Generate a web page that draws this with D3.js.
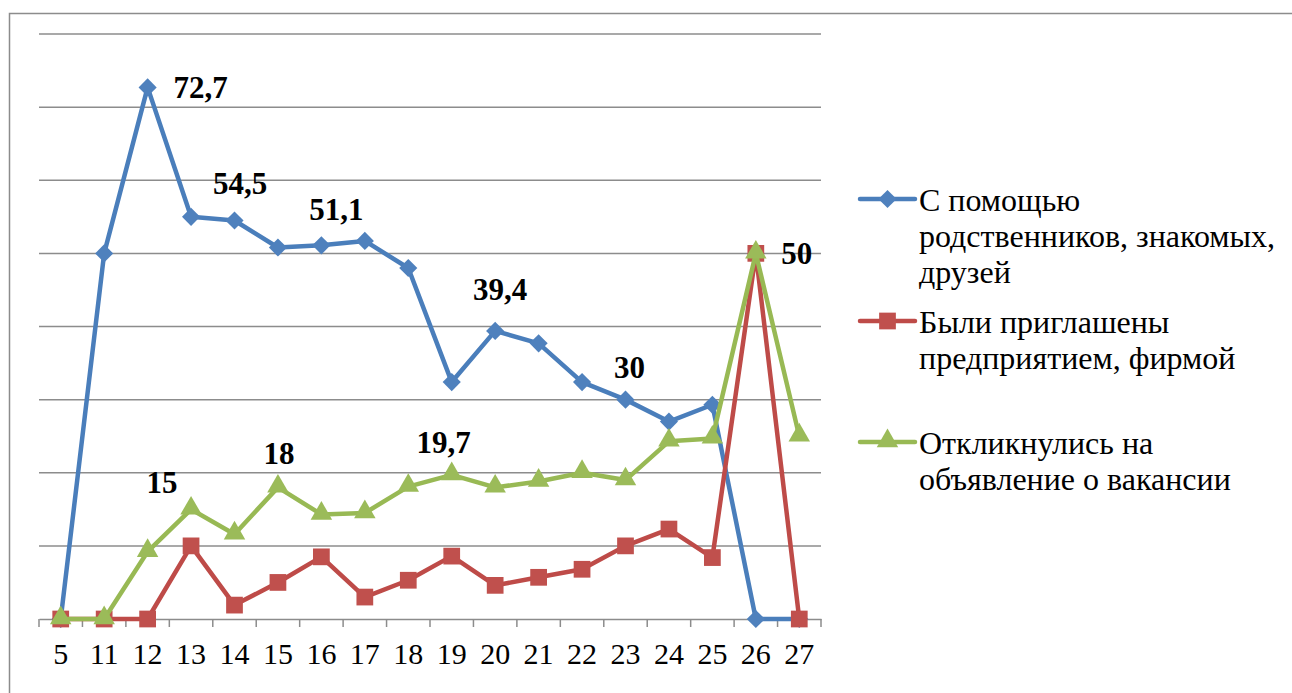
<!DOCTYPE html>
<html>
<head>
<meta charset="utf-8">
<script src="https://cdn.jsdelivr.net/npm/d3@7"></script>
<style>
  body { margin: 0; background: #fff; }
  svg { display: block; font-family: "Liberation Serif", "Times New Roman", serif; }
</style>
</head>
<body>
<div id="chart"></div>
<script>

// categories (x axis)
const categories = ['5', '11', '12', '13', '14', '15', '16', '17', '18',
                    '19', '20', '21', '22', '23', '24', '25', '26', '27'];

// series values
const relatives = [0, 50, 72.7, 55, 54.5, 50.8, 51.1, 51.7, 48, 32.4, 39.4, 37.7, 32.4, 30, 27, 29.3, 0, 0];
const invited   = [0, 0, 0, 10, 1.9, 5, 8.5, 3, 5.3, 8.6, 4.6, 5.7, 6.8, 10, 12.3, 8.4, 50, 0];
const responded = [0, 0, 9.2, 15, 11.6, 18, 14.3, 14.5, 18.1, 19.7, 18, 18.8, 20, 19, 24.3, 24.7, 50, 25];

const seriesNames = [
  ['С помощью', 'родственников, знакомых,', 'друзей'],
  ['Были приглашены', 'предприятием, фирмой'],
  ['Откликнулись на', 'объявление о вакансии']
];

// data labels: [series index, category, text]
const labelData = [
  [0, '12', '72,7'],
  [0, '13', '54,5'],
  [0, '16', '51,1'],
  [0, '20', '39,4'],
  [0, '23', '30'],
  [2, '13', '15'],
  [2, '15', '18'],
  [2, '19', '19,7'],
  [1, '26', '50']
];

// label offsets from their point (styling, kept apart from the data)
const labelOffsets = [
  [53, 0], [49, -33], [15, -36], [5, -41], [4, -32],
  [-29, -27], [1, -34], [-8, -32], [41, 0]
];

const width = 1292, height = 693;
const margin = { top: 34, left: 39, right: 471, bottom: 74 };

const svg = d3.select('#chart').append('svg')
    .attr('width', width)
    .attr('height', height);

// outer frame (right and bottom edges fall outside the picture)
svg.append('rect')
    .attr('x', 9.5).attr('y', 13.5)
    .attr('width', 1400).attr('height', 800)
    .attr('fill', 'none')
    .attr('stroke', '#8c8c8c')
    .attr('stroke-width', 1.5);

const x = d3.scaleBand()
    .domain(categories)
    .range([margin.left, width - margin.right]);

const y = d3.scaleLinear()
    .domain([0, 80])
    .range([height - margin.bottom, margin.top]);

const g = svg.append('g');

// gridlines
g.append('g')
  .selectAll('line')
  .data(y.ticks(8).filter(d => d > 0))
  .join('line')
    .attr('x1', margin.left)
    .attr('x2', width - margin.right)
    .attr('y1', d => y(d))
    .attr('y2', d => y(d))
    .attr('stroke', '#8c8c8c')
    .attr('stroke-width', 1.5);

// x axis
const xAxis = g.append('g')
    .attr('transform', `translate(0, ${y(0)})`)
    .call(d3.axisBottom(x).tickSize(0).tickPadding(24));

xAxis.select('.domain').attr('stroke', '#8c8c8c').attr('stroke-width', 1.5);
xAxis.selectAll('text')
    .attr('font-size', 30)
    .attr('fill', '#000')
    .attr('font-family', '"Liberation Serif", "Times New Roman", serif');

// tick marks between categories
const tickPos = categories.map(c => x(c)).concat([x(categories[categories.length - 1]) + x.bandwidth()]);
xAxis.selectAll('.sep')
  .data(tickPos)
  .join('line')
    .attr('class', 'sep')
    .attr('x1', d => d).attr('x2', d => d)
    .attr('y1', 0).attr('y2', 8)
    .attr('stroke', '#8c8c8c')
    .attr('stroke-width', 1.5);

const series = [
  { values: relatives, line: '#4A7EBB', fill: '#4F81BD', symbol: d3.symbolDiamond2, size: 210, dy: 0 },
  { values: invited,   line: '#BE4B48', fill: '#C0504D', symbol: d3.symbolSquare,   size: 280, dy: 0 },
  { values: responded, line: '#98B954', fill: '#9BBB59', symbol: d3.symbolTriangle, size: 200, dy: -1 }
];

const cx = c => x(c) + x.bandwidth() / 2;

const line = d3.line()
    .x((d, i) => cx(categories[i]))
    .y(d => y(d));

series.forEach(s => {
  g.append('path')
      .datum(s.values)
      .attr('d', line)
      .attr('fill', 'none')
      .attr('stroke', s.line)
      .attr('stroke-width', 4.5)
      .attr('stroke-linejoin', 'round');

  g.append('g')
    .selectAll('path')
    .data(s.values)
    .join('path')
      .attr('d', d3.symbol().type(s.symbol).size(s.size))
      .attr('transform', (d, i) => `translate(${cx(categories[i])}, ${y(d) + s.dy})`)
      .attr('fill', s.fill);
});

// data labels
labelData.forEach((l, i) => {
  const vals = series[l[0]].values;
  const idx = categories.indexOf(l[1]);
  g.append('text')
      .attr('x', cx(l[1]) + labelOffsets[i][0])
      .attr('y', y(vals[idx]) + labelOffsets[i][1])
      .attr('text-anchor', 'middle')
      .attr('dominant-baseline', 'central')
      .attr('font-size', 31)
      .attr('font-weight', 'bold')
      .attr('fill', '#000')
      .text(l[2]);
});

// legend
const legendY = [199, 321, 442];
const legend = svg.append('g');

series.forEach((s, i) => {
  const row = legend.append('g')
      .attr('transform', `translate(860, ${legendY[i]})`);

  row.append('line')
      .attr('x1', 0).attr('x2', 55)
      .attr('stroke', s.line)
      .attr('stroke-width', 4.5)
      .attr('stroke-linecap', 'round');

  row.append('path')
      .attr('d', d3.symbol().type(s.symbol).size(s.size))
      .attr('transform', `translate(27.5, ${s.dy})`)
      .attr('fill', s.fill);

  const txt = row.append('text')
      .attr('x', 59)
      .attr('y', 12)
      .attr('font-size', 32)
      .attr('fill', '#000');

  seriesNames[i].forEach((t, j) => {
    txt.append('tspan')
        .attr('x', 59)
        .attr('dy', j === 0 ? 0 : 36)
        .text(t);
  });
});

</script>
</body>
</html>
